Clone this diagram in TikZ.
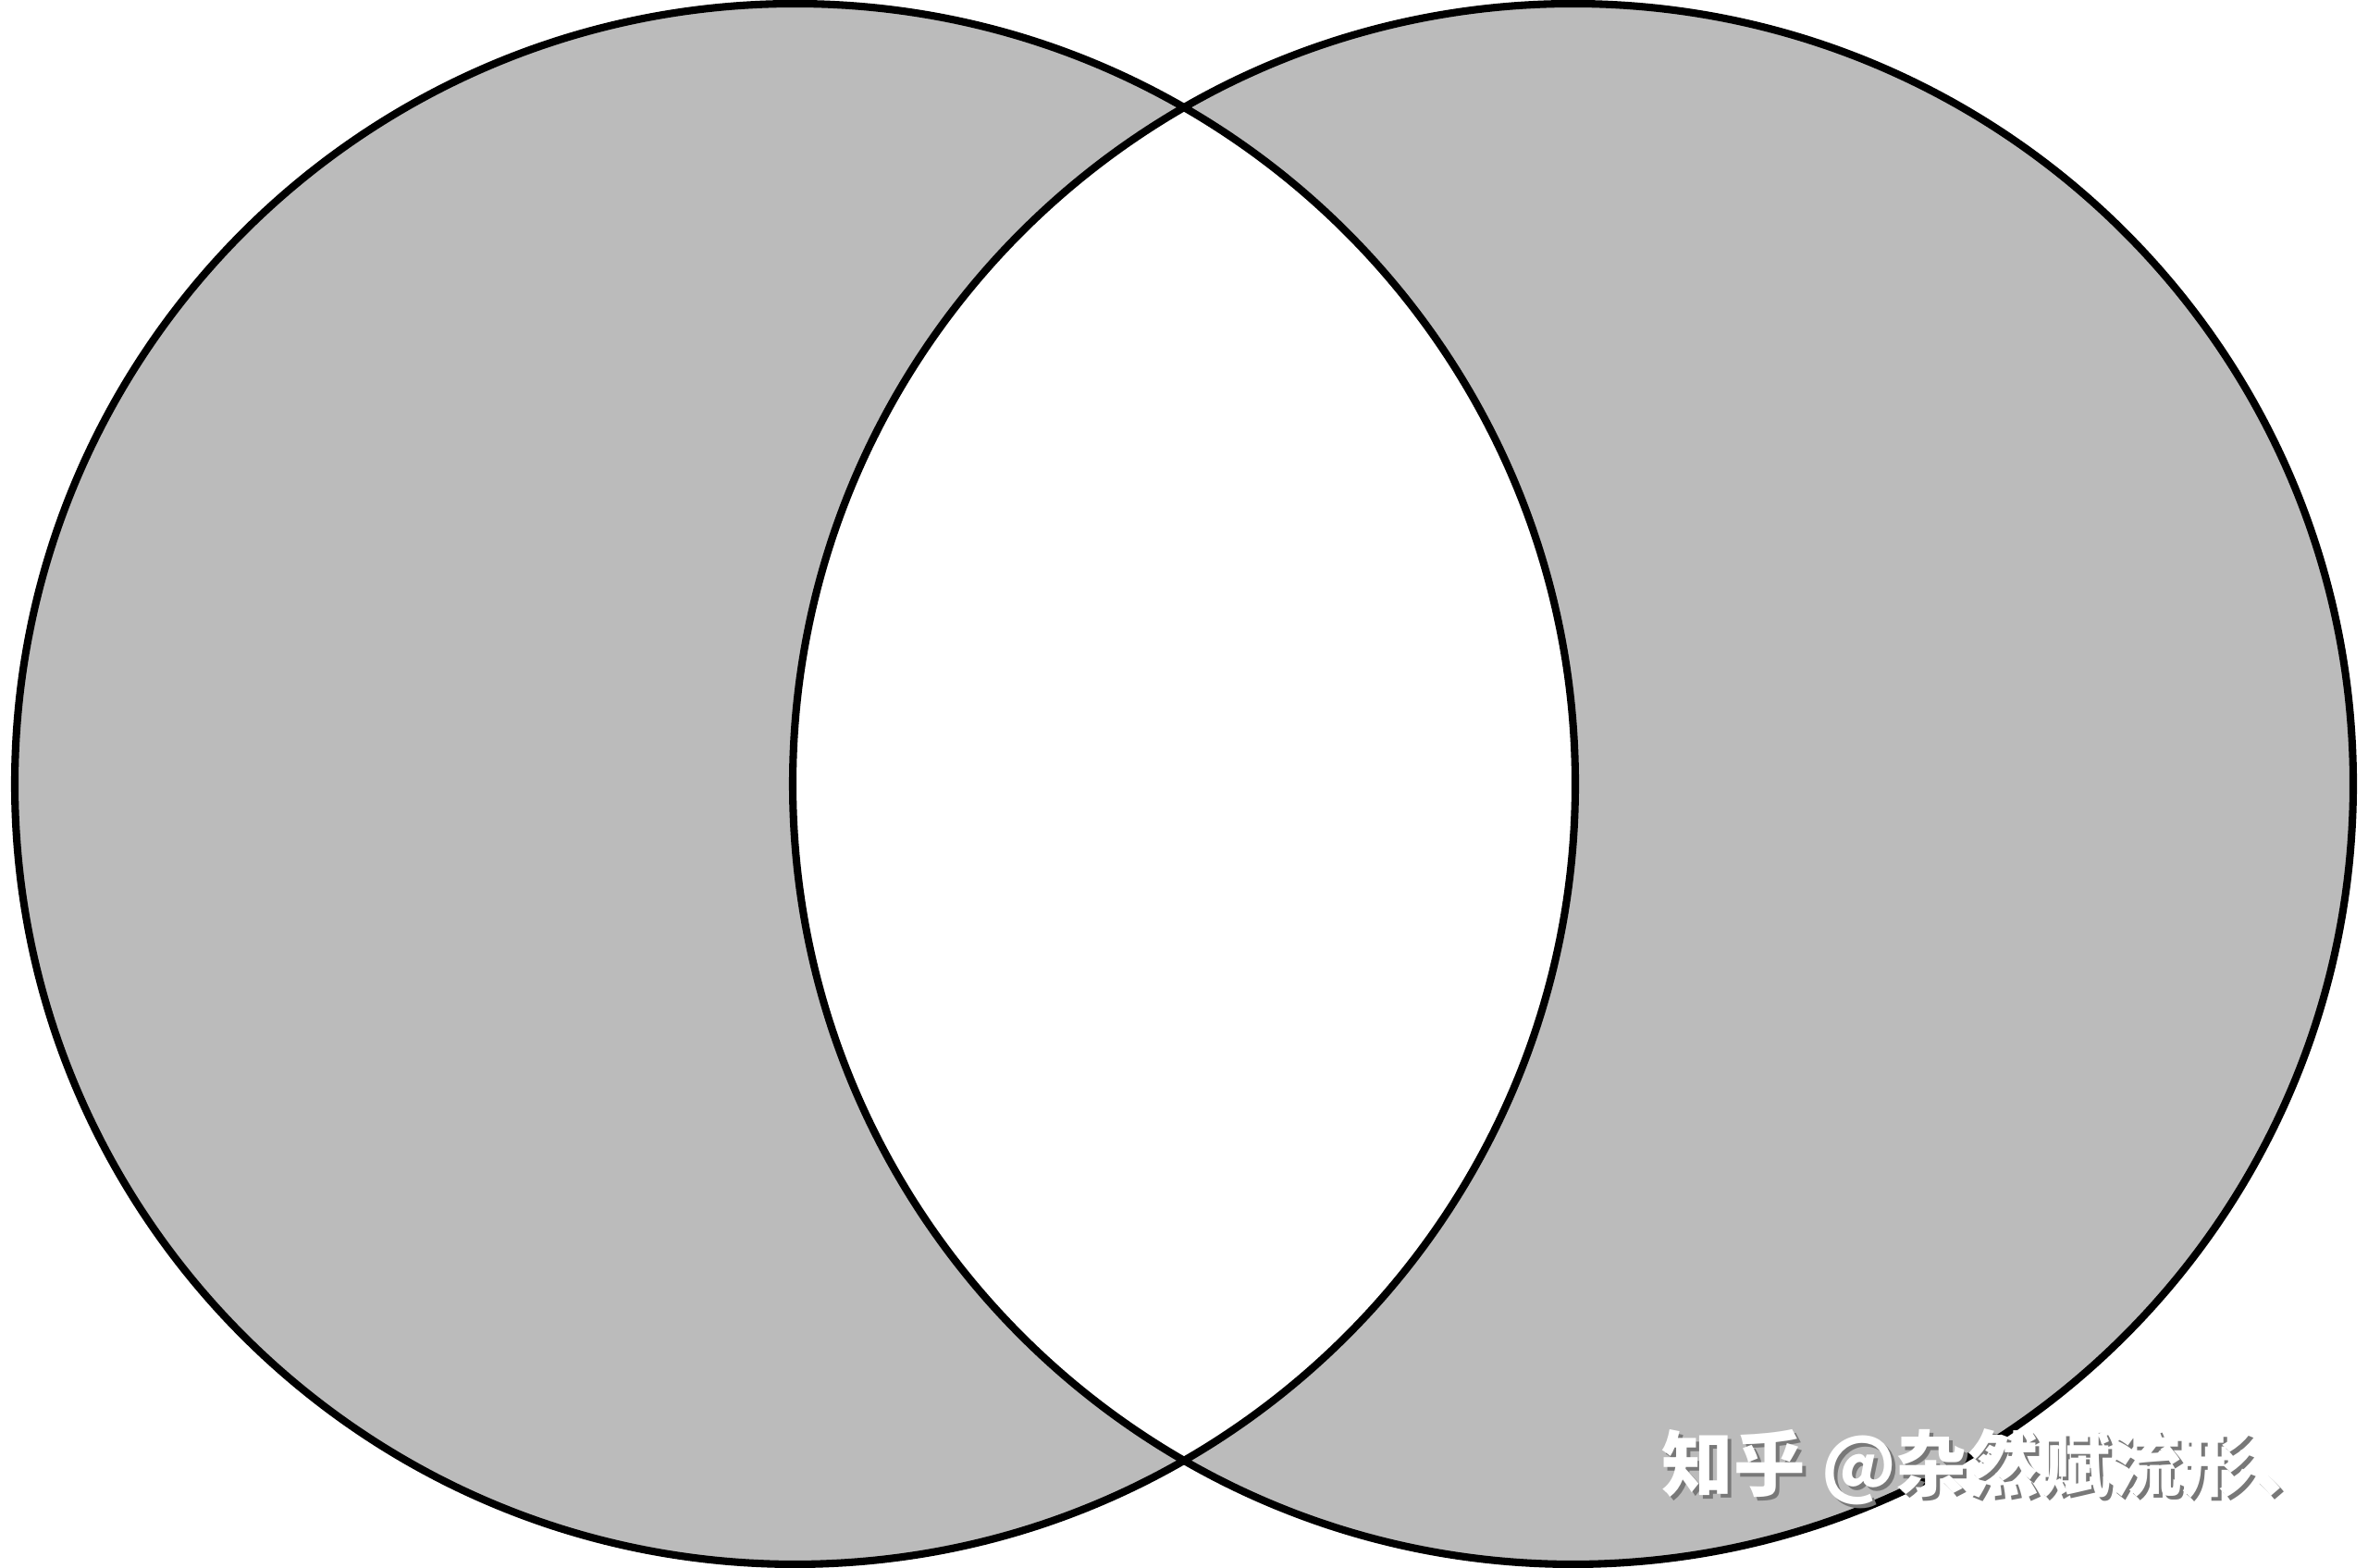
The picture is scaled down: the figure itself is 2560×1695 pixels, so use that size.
\documentclass[tikz,border=0pt]{standalone}
\usepackage{xcolor}
\usepackage{fontspec}
\newfontfamily\cjk{Noto Sans CJK SC}
\definecolor{setgray}{RGB}{187,187,187}
\definecolor{shadowgray}{RGB}{120,120,120}
\tikzset{
  rim/.style={draw=black,line width=2.3pt},
  mark text/.style={font=\cjk\bfseries\fontsize{22}{22}\selectfont,anchor=west,inner sep=0pt}
}
\begin{document}
\begin{tikzpicture}[x=0.01cm,y=0.01cm]
		\useasboundingbox (0,0) rectangle (2560,1695);
		\fill[white] (0,0) rectangle (2560,1695);
		% symmetric difference
		\fill[setgray,even odd rule] (859.5,847.5) circle (843.5) (1700.5,847.5) circle (843.5);
		\draw[rim] (859.5,847.5) circle (843.5);
		\draw[rim] (1700.5,847.5) circle (843.5);
		\node[mark text,text=shadowgray] (shadow) at (1800,105) {知乎 @杂然赋流形、};
		\node[mark text,text=white] (mark) at (1796,109) {知乎 @杂然赋流形、};
	\end{tikzpicture}
\end{document}
